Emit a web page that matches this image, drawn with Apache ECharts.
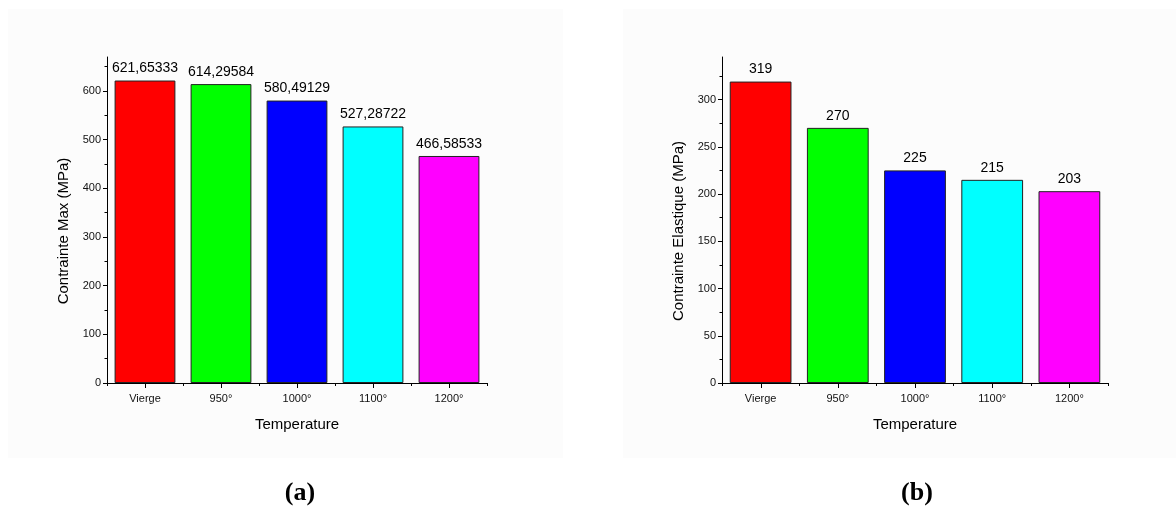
<!DOCTYPE html>
<html>
<head>
<meta charset="utf-8">
<script src="https://cdn.jsdelivr.net/npm/echarts@6/dist/echarts.min.js"></script>
<style>
  html, body { margin: 0; padding: 0; background: #ffffff; }
  #chart { width: 1176px; height: 506px; }
</style>
</head>
<body>
<div id="chart"></div>
<script>
// Heat-treatment temperatures (shared by both panels)
const categories = ['Vierge', '950°', '1000°', '1100°', '1200°'];
// (a) maximum stress, MPa
const contrainteMax = [621.65333, 614.29584, 580.49129, 527.28722, 466.58533];
// (b) yield (elastic) stress, MPa
const contrainteElastique = [319, 270, 225, 215, 203];
// Y tick labels
const ticksMax = [0, 100, 200, 300, 400, 500, 600];
const minorMax = [50, 150, 250, 350, 450, 550, 650];
const ticksElastique = [0, 50, 100, 150, 200, 250, 300];
const minorElastique = [25, 75, 125, 175, 225, 275, 325];

const barColors = ['#ff0000', '#00ff00', '#0000ff', '#00ffff', '#ff00ff'];
const FONT = '"Liberation Sans", Arial, sans-serif';

const chart = echarts.init(document.getElementById('chart'), null, { renderer: 'canvas' });

function barData(values) {
  return values.map((v, i) => ({ value: v, itemStyle: { color: barColors[i] } }));
}

function commaDecimal(v) {
  return String(v).replace('.', ',');
}

// Category axis: labels and short ticks on the category boundaries
function xAxis(gridIndex) {
  return {
    type: 'category', gridIndex: gridIndex, data: categories, position: 'bottom', z: 5,
    name: 'Temperature', nameLocation: 'middle', nameGap: 34,
    nameTextStyle: { fontFamily: FONT, fontSize: 15, color: '#000' },
    axisLine: { show: true, onZero: false, lineStyle: { color: '#000', width: 1 } },
    axisTick: { show: true, alignWithLabel: false, length: 3, lineStyle: { color: '#000', width: 1 } },
    axisLabel: { fontFamily: FONT, fontSize: 11, color: '#111', margin: 10 },
    splitLine: { show: false }
  };
}

// Value axes: major ticks + labels, and a second overlay for the minor ticks
function yAxes(gridIndex, max, majors, minors, name) {
  return [
    {
      type: 'value', gridIndex: gridIndex, min: 0, max: max, position: 'left', z: 5,
      name: name, nameLocation: 'middle', nameGap: 36,
      nameTextStyle: { fontFamily: FONT, fontSize: 15, color: '#000', padding: [0, 22, 0, 0] },
      axisLine: { show: true, onZero: false, lineStyle: { color: '#000', width: 1 } },
      axisTick: { show: true, length: 4, customValues: majors, lineStyle: { color: '#000' } },
      axisLabel: { fontFamily: FONT, fontSize: 11, color: '#111', margin: 6, customValues: majors },
      splitLine: { show: false }
    },
    {
      type: 'value', gridIndex: gridIndex, min: 0, max: max, position: 'left', z: 5,
      axisLine: { show: false, onZero: false },
      axisTick: { show: true, length: 2.5, customValues: minors, lineStyle: { color: '#000' } },
      axisLabel: { show: false },
      splitLine: { show: false }
    }
  ];
}

function barSeries(axisIndex, yIndex, values) {
  return {
    type: 'bar',
    xAxisIndex: axisIndex, yAxisIndex: yIndex,
    data: barData(values),
    barCategoryGap: '20%',
    itemStyle: { borderColor: '#222', borderWidth: 1 },
    label: {
      show: true, position: 'top', distance: 5,
      fontFamily: FONT, fontSize: 14, color: '#000',
      formatter: p => commaDecimal(p.value)
    },
    silent: true
  };
}

// Longer ticks under each category centre, placed through the axis scales
function centreTicks(axisIndex, yIndex) {
  return {
    type: 'custom',
    xAxisIndex: axisIndex, yAxisIndex: yIndex,
    data: categories.map(c => [c, 0]),
    clip: false, silent: true, z: 6,
    renderItem: function (params, api) {
      const p = api.coord([api.value(0), 0]);
      const x = Math.round(p[0]) + 0.5;
      return {
        type: 'line',
        shape: { x1: x, y1: p[1], x2: x, y2: p[1] + 5 },
        style: { stroke: '#000', lineWidth: 1 }
      };
    }
  };
}

const captionFont = 'bold 26px "Liberation Serif", "Times New Roman", serif';

const option = {
  backgroundColor: '#ffffff',
  animation: false,
  graphic: [
    { type: 'rect', z: -10, shape: { x: 8, y: 9, width: 555, height: 449 }, style: { fill: '#fcfcfc' } },
    { type: 'rect', z: -10, shape: { x: 623, y: 9, width: 553, height: 449 }, style: { fill: '#fcfcfc' } },
    { type: 'text', x: 300, y: 493,
      style: { text: '(a)', font: captionFont, fill: '#000', align: 'center', verticalAlign: 'middle' } },
    { type: 'text', x: 917, y: 493,
      style: { text: '(b)', font: captionFont, fill: '#000', align: 'center', verticalAlign: 'middle' } }
  ],
  grid: [
    { left: 107, top: 57, width: 380, height: 326, containLabel: false },
    { left: 722, top: 57, width: 386, height: 326, containLabel: false }
  ],
  xAxis: [xAxis(0), xAxis(1)],
  yAxis: [].concat(
    yAxes(0, 670, ticksMax, minorMax, 'Contrainte Max (MPa)'),
    yAxes(1, 345, ticksElastique, minorElastique, 'Contrainte Elastique (MPa)')
  ),
  series: [
    barSeries(0, 0, contrainteMax),
    centreTicks(0, 0),
    barSeries(1, 2, contrainteElastique),
    centreTicks(1, 2)
  ]
};

chart.setOption(option);
</script>
</body>
</html>
